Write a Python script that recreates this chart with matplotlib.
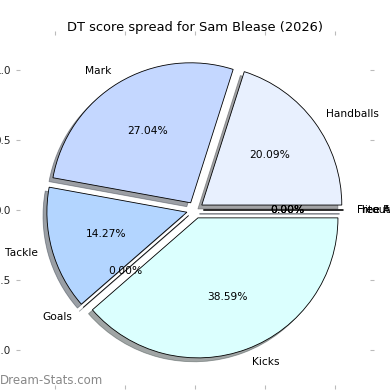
import matplotlib
matplotlib.use("Agg")
import matplotlib.pyplot as plt

# DT score spread data
labels = ["Handballs", "Mark", "Tackle", "Goals", "Kicks", "Free For", "Free Against", "Hitout"]
scores = [20.09, 27.04, 14.27, 0.0, 38.59, 0.0, 0.0, 0.0]
colors = ["#e8f0fe", "#c4d7ff", "#b3d5ff", "#a8c8f0", "#dbfffe", "#e0e8ff", "#d0e0ff", "#c0d8ff"]
explode = [0.06] * len(labels)

fig = plt.figure(figsize=(3.9, 3.9), dpi=100)
ax = fig.add_axes([20 / 390, 5 / 390, 350 / 390, 350 / 390])

ax.pie(scores, labels=labels, colors=colors, explode=explode, autopct="%1.2f%%",
       shadow=True, wedgeprops={"edgecolor": "black", "linewidth": 0.6},
       textprops={"fontsize": 7.7})

ax.set_xlim(-1.25, 1.25)
ax.set_ylim(-1.25, 1.25)
ax.set_aspect("equal")
ax.set_frame_on(False)
ticks = [-1.0, -0.5, 0.0, 0.5, 1.0]
ax.set_xticks(ticks)
ax.set_yticks(ticks)
ax.tick_params(axis="both", labelsize=7.5, color="#bbbbbb", length=3,
               top=True, right=True, labelcolor="#222222")
ax.set_title("DT score spread for Sam Blease (2026)", fontsize=9.4, pad=3)

fig.text(0.0, 10 / 390, "Dream-Stats.com", fontsize=8.5, color="#888888",
         va="center", ha="left")

fig.savefig("out.png", dpi=100)
